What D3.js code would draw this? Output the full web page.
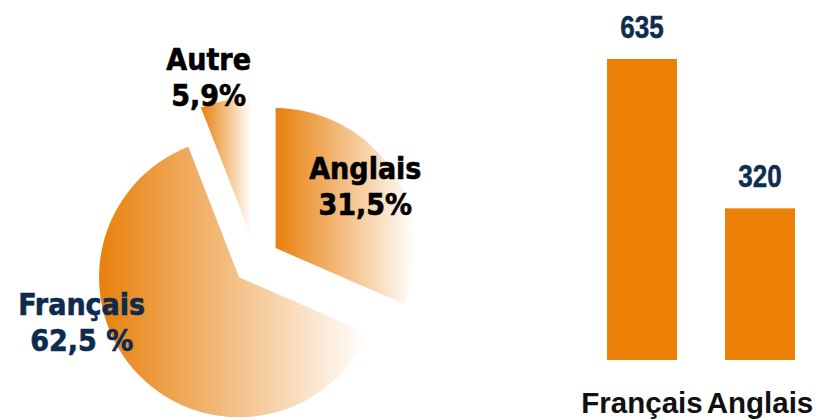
<!DOCTYPE html>
<html>
<head>
<meta charset="utf-8">
<script src="https://cdn.jsdelivr.net/npm/d3@7"></script>
<style>
  body { margin: 0; background: #fff; }
  svg { display: block; }
  .pie-label { font-family: "DejaVu Sans Condensed", "DejaVu Sans", sans-serif; font-stretch: condensed; font-weight: bold; font-size: 30px; stroke-width: 0.6px; }
  .bar-value { font-family: "Liberation Sans", Arial, sans-serif; font-weight: bold; font-size: 31px; fill: #0e2c4e; stroke: #0e2c4e; stroke-width: 0.5px; }
  .bar-cat { font-family: "Liberation Sans", Arial, sans-serif; font-weight: bold; font-size: 29.5px; fill: #111; }
</style>
</head>
<body>
<svg width="818" height="420"></svg>
<script>
// pie data
const pieNames = ["Anglais", "Français", "Autre"];
const pieValues = [31.5, 62.5, 5.9];
const pieTexts = ["31,5%", "62,5 %", "5,9%"];

// bar data
const barNames = ["Français", "Anglais"];
const barValues = [635, 320];

const svg = d3.select("svg");

// one gradient, applied per slice bounding box: orange on the left -> white on the right
const defs = svg.append("defs");
const grad = defs.append("linearGradient")
    .attr("id", "sliceGrad")
    .attr("x1", "0").attr("y1", "0").attr("x2", "1").attr("y2", "0");
grad.append("stop").attr("offset", "0%").attr("stop-color", "#e8800c");
grad.append("stop").attr("offset", "100%").attr("stop-color", "#ffffff");

const cx = 256, cy = 261, R = 140, explode = 23.5;

const pie = d3.pie().sort(null).value(d => d);
const arcs = pie(pieValues);
const arc = d3.arc().innerRadius(0).outerRadius(R);

const g = svg.append("g").attr("transform", `translate(${cx},${cy})`);

g.selectAll("path.slice")
    .data(arcs)
    .join("path")
    .attr("class", "slice")
    .attr("transform", d => {
        const a = (d.startAngle + d.endAngle) / 2;
        return `translate(${explode * Math.sin(a)},${-explode * Math.cos(a)})`;
    })
    .attr("d", arc)
    .attr("fill", "url(#sliceGrad)");

// label placement: radius from slice apex and angle (deg) per slice
const labelLayout = {
    "Anglais": { r: 103, ang: 60.5, color: "#000" },
    "Français": { r: 167, ang: 250.4, color: "#0d2b4e" },
    "Autre": { r: 156, ang: 344, color: "#000" }
};

const labels = g.selectAll("text.pie-label")
    .data(arcs)
    .join("text")
    .attr("class", "pie-label")
    .attr("text-anchor", "middle")
    .attr("fill", (d, i) => labelLayout[pieNames[i]].color)
    .attr("stroke", (d, i) => labelLayout[pieNames[i]].color)
    .attr("transform", (d, i) => {
        const a = (d.startAngle + d.endAngle) / 2;
        const L = labelLayout[pieNames[i]];
        const t = L.ang * Math.PI / 180;
        const x = explode * Math.sin(a) + L.r * Math.sin(t);
        const y = -explode * Math.cos(a) - L.r * Math.cos(t);
        return `translate(${x},${y})`;
    });
labels.append("tspan").attr("x", 0).attr("y", -18).text((d, i) => pieNames[i]);
labels.append("tspan").attr("x", 0).attr("y", 18).text((d, i) => pieTexts[i]);

// bar chart
const x = d3.scaleBand()
    .domain(barNames)
    .range([583, 819])
    .paddingInner(0.407)
    .paddingOuter(0.2035);
const y = d3.scaleLinear().domain([0, 635]).range([360, 59]);

svg.selectAll("rect.bar")
    .data(barValues)
    .join("rect")
    .attr("class", "bar")
    .attr("x", (d, i) => x(barNames[i]))
    .attr("width", x.bandwidth())
    .attr("y", d => y(d))
    .attr("height", d => y(0) - y(d))
    .attr("fill", "#ec8006");

// narrow digits: squeeze horizontally
svg.selectAll("text.bar-value")
    .data(barValues)
    .join("text")
    .attr("class", "bar-value")
    .attr("text-anchor", "middle")
    .attr("transform", (d, i) => `translate(${x(barNames[i]) + x.bandwidth() / 2},${y(d) - 21}) scale(0.84,1)`)
    .text(d => d);

svg.selectAll("text.bar-cat")
    .data(barNames)
    .join("text")
    .attr("class", "bar-cat")
    .attr("text-anchor", "middle")
    .attr("x", d => x(d) + x.bandwidth() / 2)
    .attr("y", 413)
    .text(d => d);
</script>
</body>
</html>
